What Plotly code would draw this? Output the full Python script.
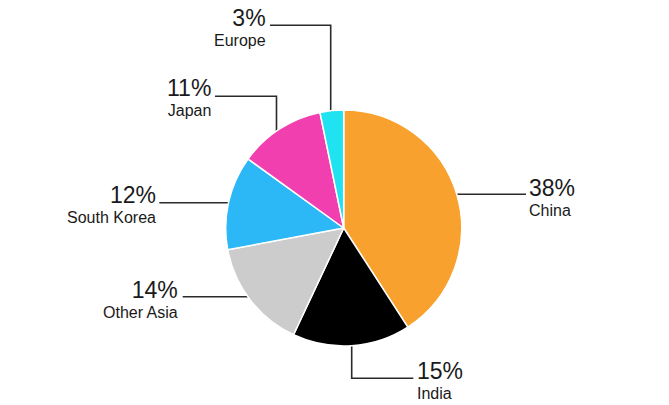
import plotly.graph_objects as go

W, H = 669, 405

regions = ["China", "India", "Other Asia", "South Korea", "Japan", "Europe"]
shares = [38, 15, 14, 12, 11, 3]
colors = ["#F9A12E", "#000000", "#CCCCCC", "#2CB8F6", "#F23FB0", "#20E3F2"]

# label placement in pixels: anchor side, x, centre y of the two-line label
label_pos = {
    "China": ("left", 527, 197),
    "India": ("left", 415, 379.5),
    "Other Asia": ("right", 180, 298.5),
    "South Korea": ("right", 158, 204),
    "Japan": ("right", 213, 97),
    "Europe": ("right", 268, 27.5),
}
# leader lines in pixels
leaders = {
    "China": [(526, 194.3), (440, 194.3)],
    "India": [(351.7, 320), (351.7, 378.3), (413.3, 378.3)],
    "Other Asia": [(182.7, 296.7), (265, 296.7)],
    "South Korea": [(159.3, 202.7), (245, 202.7)],
    "Japan": [(276.5, 145), (276.5, 96.3), (215, 96.3)],
    "Europe": [(330.7, 130), (330.7, 25.3), (270, 25.3)],
}


def px(x, y):
    return x / W, 1 - y / H


fig = go.Figure()
fig.add_trace(go.Pie(
    labels=regions,
    values=shares,
    sort=False,
    direction="clockwise",
    rotation=0,
    marker=dict(colors=colors, line=dict(color="white", width=1.5)),
    textinfo="none",
    hoverinfo="label+percent",
    showlegend=False,
    domain=dict(x=[225.7 / W, 461.7 / W], y=[1 - 346 / H, 1 - 110 / H]),
))

for name, pts in leaders.items():
    path = "M " + " L ".join("%.5f,%.5f" % px(x, y) for x, y in pts)
    fig.add_shape(type="path", path=path, xref="paper", yref="paper",
                  line=dict(color="#2a2a2a", width=1.6), layer="below")

for name, share in zip(regions, shares):
    side, x, y = label_pos[name]
    xp, yp = px(x, y)
    fig.add_annotation(
        x=xp, y=yp, xref="paper", yref="paper",
        text="<span style='font-size:23px'>%d%%</span><br><span style='font-size:16px'>%s</span>" % (share, name),
        showarrow=False, xanchor=side, yanchor="middle", align=side,
        font=dict(family="Liberation Sans", size=15, color="#1a1a1a"))

fig.update_layout(
    width=W, height=H,
    margin=dict(l=0, r=0, t=0, b=0),
    paper_bgcolor="white",
    plot_bgcolor="white",
)

# drop the default page margin so the figure sits at the window's corner
fig.write_html("out.html", config={"displayModeBar": False},
               post_script="document.body.style.margin='0';")
